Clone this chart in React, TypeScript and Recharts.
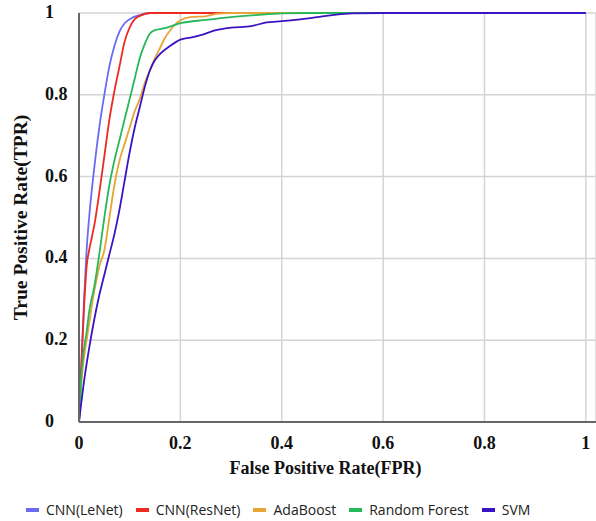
import { LineChart, Line, XAxis, YAxis, CartesianGrid, Legend } from "recharts";

// ROC points [fpr, tpr]
const lenet = [
  [0, 0], [0.005, 0.15], [0.01, 0.3], [0.015, 0.42], [0.02, 0.5], [0.03, 0.62],
  [0.04, 0.72], [0.05, 0.8], [0.06, 0.87], [0.07, 0.92], [0.08, 0.955], [0.09, 0.975],
  [0.1, 0.985], [0.12, 0.995], [0.14, 1], [1, 1],
];
const resnet = [
  [0, 0], [0.005, 0.15], [0.01, 0.28], [0.015, 0.38], [0.02, 0.42], [0.025, 0.45],
  [0.03, 0.48], [0.04, 0.56], [0.05, 0.65], [0.06, 0.74], [0.07, 0.81], [0.08, 0.87],
  [0.09, 0.93], [0.1, 0.965], [0.11, 0.985], [0.12, 0.993], [0.14, 1], [1, 1],
];
const adaboost = [
  [0, 0], [0.005, 0.1], [0.01, 0.16], [0.015, 0.2], [0.02, 0.24], [0.03, 0.32],
  [0.035, 0.35], [0.04, 0.38], [0.05, 0.42], [0.06, 0.5], [0.07, 0.58], [0.08, 0.64],
  [0.09, 0.68], [0.1, 0.72], [0.11, 0.76], [0.12, 0.79], [0.13, 0.83], [0.14, 0.86],
  [0.15, 0.89], [0.16, 0.915], [0.17, 0.94], [0.18, 0.958], [0.19, 0.972], [0.2, 0.982],
  [0.22, 0.99], [0.25, 0.992], [0.27, 0.998], [0.3, 1], [1, 1],
];
const randomForest = [
  [0, 0], [0.005, 0.12], [0.01, 0.18], [0.015, 0.22], [0.02, 0.27], [0.03, 0.33],
  [0.04, 0.41], [0.05, 0.5], [0.06, 0.58], [0.07, 0.64], [0.08, 0.69], [0.09, 0.74],
  [0.1, 0.79], [0.11, 0.84], [0.12, 0.89], [0.13, 0.925], [0.14, 0.95], [0.15, 0.958],
  [0.17, 0.963], [0.2, 0.975], [0.25, 0.983], [0.3, 0.99], [0.35, 0.995], [0.4, 0.999],
  [0.45, 1], [1, 1],
];
const svm = [
  [0, 0], [0.01, 0.1], [0.02, 0.18], [0.03, 0.25], [0.04, 0.31], [0.05, 0.36],
  [0.06, 0.41], [0.07, 0.46], [0.08, 0.52], [0.09, 0.59], [0.1, 0.66], [0.11, 0.72],
  [0.12, 0.77], [0.13, 0.82], [0.14, 0.86], [0.15, 0.885], [0.16, 0.9], [0.18, 0.92],
  [0.2, 0.935], [0.22, 0.94], [0.24, 0.946], [0.27, 0.958], [0.3, 0.964], [0.34, 0.968],
  [0.37, 0.977], [0.4, 0.98], [0.44, 0.985], [0.47, 0.99], [0.5, 0.995], [0.54, 0.999],
  [0.6, 1], [1, 1],
];

const ticks = [0, 0.2, 0.4, 0.6, 0.8, 1];

const series = [
  { name: "CNN(LeNet)", points: lenet, color: "#6a6af5" },
  { name: "CNN(ResNet)", points: resnet, color: "#ee2a22" },
  { name: "AdaBoost", points: adaboost, color: "#e8a436" },
  { name: "Random Forest", points: randomForest, color: "#27b85a" },
  { name: "SVM", points: svm, color: "#3a14c4" },
];

const serif = "'Liberation Serif', 'Times New Roman', serif";

const toRows = (pts: number[][]) => pts.map(([x, y]) => ({ x, y }));

const YTick = (props: any) => {
  const { y, payload } = props;
  return (
    <text x={45} y={y} dy={5} textAnchor="start" fontFamily={serif} fontWeight="bold" fontSize={18} fill="#111">
      {payload.value}
    </text>
  );
};

const renderLegend = () => (
  <div style={{ display: "flex", paddingLeft: 26, paddingTop: 24, fontFamily: "'Open Sans', sans-serif", fontSize: 14, color: "#222" }}>
    {series.map((s) => (
      <div key={s.name} style={{ display: "flex", alignItems: "center", marginRight: 13 }}>
        <span style={{ display: "inline-block", width: 13, height: 4, background: s.color, marginRight: 7 }} />
        <span>{s.name}</span>
      </div>
    ))}
  </div>
);

export default function App() {
  return (
    <div style={{ position: "absolute", left: 0, top: 0, background: "#fff" }}>
      <LineChart width={596} height={521} margin={{ top: 13, right: 0, left: 0, bottom: 0 }}>
        <CartesianGrid stroke="#d4d4d4" strokeWidth={1.5} />
        <XAxis
          type="number"
          dataKey="x"
          domain={[0, 1.02]}
          ticks={ticks}
          allowDataOverflow
          height={54}
          stroke="#666"
          strokeWidth={2}
          tickLine={false}
          tick={{ fontFamily: serif, fontWeight: "bold", fontSize: 18, fill: "#111" }}
          tickMargin={8}
          label={{ value: "False Positive Rate(FPR)", position: "insideBottom", offset: 2, dx: -12, style: { fontFamily: serif, fontWeight: "bold", fontSize: 18, fill: "#111" } }}
        />
        <YAxis
          type="number"
          domain={[0, 1]}
          ticks={ticks}
          width={79}
          stroke="#666"
          strokeWidth={2}
          tickLine={false}
          tick={<YTick />}
          label={{ value: "True Positive Rate(TPR)", angle: -90, position: "insideLeft", offset: 20, style: { textAnchor: "middle", fontFamily: serif, fontWeight: "bold", fontSize: 19.5, fill: "#111" } }}
        />
        <Legend verticalAlign="bottom" height={45} content={renderLegend} />
        {series.map((s) => (
          <Line
            key={s.name}
            data={toRows(s.points)}
            dataKey="y"
            name={s.name}
            type="monotone"
            stroke={s.color}
            strokeWidth={1.8}
            dot={false}
            isAnimationActive={false}
          />
        ))}
      </LineChart>
    </div>
  );
}
